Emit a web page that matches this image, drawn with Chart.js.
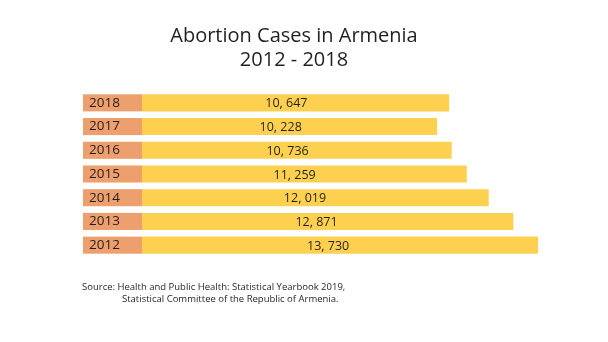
<!DOCTYPE html>
<html>
<head>
<meta charset="utf-8">
<script src="https://cdn.jsdelivr.net/npm/chart.js@4/dist/chart.umd.min.js"></script>
<style>
  html, body { margin: 0; padding: 0; background: #fff; }
  #wrap { width: 608px; height: 342px; }
</style>
</head>
<body>
<div id="wrap"><canvas id="chart" width="608" height="342"></canvas></div>
<script>
// Data
const years = ['2018', '2017', '2016', '2015', '2014', '2013', '2012'];
const cases = [10647, 10228, 10736, 11259, 12019, 12871, 13730];
const titleLines = ['Abortion Cases in Armenia', '2012 - 2018'];
const sourceLines = [
  'Source: Health and Public Health: Statistical Yearbook 2019,',
  'Statistical Committee of the Republic of Armenia.'
];

const colors = {
  bar: '#FDD14F',
  yearBox: '#EE9F6E',
  text: '#231F20'
};
const fontFamily = '"Open Sans", "Noto Sans", sans-serif';

// format like "10, 647"
function formatCases(v) {
  return v.toLocaleString('en-US').replace(',', ', ');
}

// salmon boxes behind the year labels
const yearBoxes = {
  id: 'yearBoxes',
  beforeDraw(chart) {
    const ctx = chart.ctx;
    const y = chart.scales.y;
    const meta = chart.getDatasetMeta(0);
    ctx.save();
    ctx.fillStyle = colors.yearBox;
    meta.data.forEach(bar => {
      const h = bar.height;
      ctx.fillRect(y.right - 59, bar.y - h / 2, 59, h);
    });
    ctx.restore();
  }
};

// value labels inside the bars and the source note
const valueLabels = {
  id: 'valueLabels',
  afterDatasetsDraw(chart) {
    const ctx = chart.ctx;
    const x = chart.scales.x;
    const meta = chart.getDatasetMeta(0);
    ctx.save();
    ctx.fillStyle = colors.text;
    ctx.font = '12.5px ' + fontFamily;
    ctx.textAlign = 'center';
    ctx.textBaseline = 'middle';
    meta.data.forEach((bar, i) => {
      const v = cases[i];
      ctx.fillText(formatCases(v), x.getPixelForValue(v * 0.47), bar.y + 1);
    });

    ctx.font = '9.5px ' + fontFamily;
    ctx.textAlign = 'left';
    ctx.textBaseline = 'alphabetic';
    ctx.fillText(sourceLines[0], 82, 290);
    ctx.fillText(sourceLines[1], 122, 302);
    ctx.restore();
  }
};

new Chart(document.getElementById('chart'), {
  type: 'bar',
  data: {
    labels: years,
    datasets: [{
      data: cases,
      backgroundColor: colors.bar,
      borderWidth: 0,
      barPercentage: 0.72,
      categoryPercentage: 1
    }]
  },
  options: {
    indexAxis: 'y',
    responsive: false,
    animation: false,
    layout: {
      padding: { left: 0, right: 20, top: 0, bottom: 85 }
    },
    scales: {
      x: {
        display: false,
        min: 0,
        max: 15460
      },
      y: {
        grid: { display: false },
        border: { display: false },
        afterFit(scale) { scale.width = 142; },
        ticks: {
          padding: 14,
          color: colors.text,
          font: { family: fontFamily, size: 13.5 }
        }
      }
    },
    plugins: {
      legend: { display: false },
      tooltip: { enabled: false },
      title: {
        display: true,
        text: titleLines,
        color: colors.text,
        font: { family: fontFamily, size: 20, weight: 'normal', lineHeight: 1.2 },
        padding: { top: 24, bottom: 19 }
      }
    }
  },
  plugins: [yearBoxes, valueLabels]
});
</script>
</body>
</html>
